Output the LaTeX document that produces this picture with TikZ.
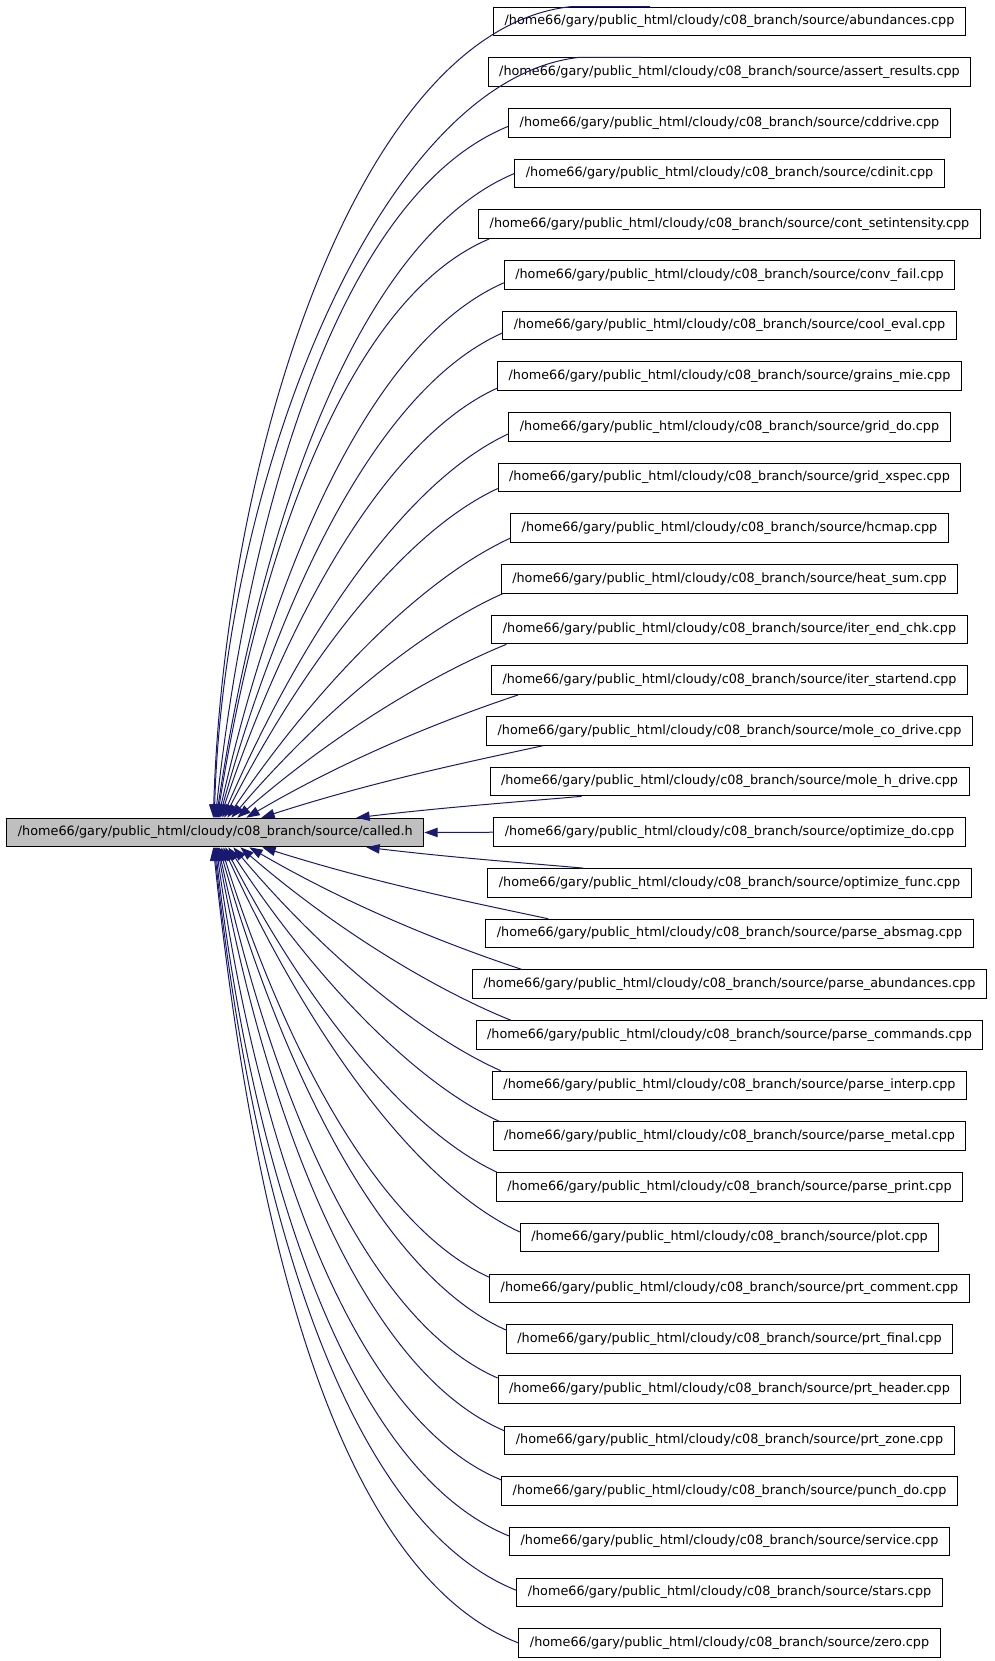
\documentclass[tikz,border=0pt]{standalone}
\usepackage{fontspec}
\setmainfont{DejaVu Sans}
\usetikzlibrary{arrows.meta,calc}
\definecolor{edgeblue}{HTML}{191970}
\definecolor{hlgray}{HTML}{BFBFBF}
\newcommand\fpath[1]{/home66/gary/public\_html/cloudy/c08\_branch/source/#1}
\newcommand\UpEdge[2]{%
  \draw[calledge] let \p1=#1, \p2=($(c.north west)+(#2,0)$),
    \n1={atan2(abs(\y1-\y2),\x1-\x2)}, \n2={min(1.25*\n1,84)},
    \n3={\n1*(1-\n1/100)}, \n4={180+\n3}
    in (\p1) to[out=\n4, in=\n2, out looseness=0.62, in looseness=1.05] (\p2);}
\newcommand\LoEdge[2]{%
  \draw[calledge] let \p1=#1, \p2=($(c.south west)+(#2,0)$),
    \n1={atan2(abs(\y1-\y2),\x1-\x2)}, \n2={-min(1.25*\n1,84)},
    \n3={\n1*(1-\n1/100)}, \n4={180-\n3}
    in (\p1) to[out=\n4, in=\n2, out looseness=0.62, in looseness=1.05] (\p2);}
\begin{document}
\begin{tikzpicture}[x=0.75pt,y=0.75pt,
  box/.style={draw=black,line width=0.75pt,fill=white,font=\fontsize{9.6}{11}\selectfont,
    inner xsep=8.25pt,inner ysep=0pt,minimum height=21.4pt},
  calledge/.style={draw=edgeblue,line width=0.75pt,-{Triangle[length=10pt,width=7pt]}}]
\useasboundingbox (0,0) rectangle (995,-1661);
\node[box,fill=hlgray,minimum width=312.75pt] (c) at (215.3,-832.5) {\fpath{called.h}};
\foreach \i/\f in {0/abundances,1/assert\_results,2/cddrive,3/cdinit,4/cont\_setintensity,
  5/conv\_fail,6/cool\_eval,7/grains\_mie,8/grid\_do,9/grid\_xspec,10/hcmap,11/heat\_sum,
  12/iter\_end\_chk,13/iter\_startend,14/mole\_co\_drive,15/mole\_h\_drive,16/optimize\_do,
  17/optimize\_func,18/parse\_absmag,19/parse\_abundances,20/parse\_commands,21/parse\_interp,
  22/parse\_metal,23/parse\_print,24/plot,25/prt\_comment,26/prt\_final,27/prt\_header,
  28/prt\_zone,29/punch\_do,30/service,31/stars,32/zero}
  \node[box] (n\i) at (729.5,{-(21.5+50.67*\i)}) {\fpath{\f.cpp}};
% special top edges
\draw[calledge] ([shift={(157,0)}]n0.north west) -- ([shift={(77,0)}]n0.north west)
  .. controls (360,-30) and (225,-450) .. ($(c.north west)+(207,0)$);
\draw[calledge] ([shift={(154,0)}]n1.north west) -- ([shift={(91,0)}]n1.north west)
  .. controls (380,-80) and (224,-476) .. ($(c.north west)+(208,0)$);
\UpEdge{([shift={(0,-3.5)}]n2.west)}{209}
\UpEdge{(n3.west)}{210}
\UpEdge{([shift={(11,0)}]n4.south west)}{211}
\UpEdge{([shift={(0,-8)}]n5.west)}{212}
\UpEdge{([shift={(0,-7.5)}]n6.west)}{213}
\UpEdge{([shift={(0,-12)}]n7.west)}{214}
\UpEdge{([shift={(0,-7)}]n8.west)}{216}
\UpEdge{([shift={(0,-11)}]n9.west)}{218}
\UpEdge{([shift={(0,-10)}]n10.west)}{221}
\UpEdge{([shift={(2,0)}]n11.south west)}{225}
\UpEdge{([shift={(15,0)}]n12.south west)}{231}
\UpEdge{([shift={(27,0)}]n13.south west)}{240}
\UpEdge{([shift={(57,0)}]n14.south west)}{255}
\UpEdge{([shift={(92,0)}]n15.south west)}{350}
\draw[calledge] (n16.west) -- (c.east);
\LoEdge{([shift={(96,0)}]n17.north west)}{360}
\LoEdge{([shift={(63,0)}]n18.north west)}{256}
\LoEdge{([shift={(50,0)}]n19.north west)}{243}
\LoEdge{([shift={(35,0)}]n20.north west)}{234}
\LoEdge{([shift={(9,0)}]n21.north west)}{227}
\LoEdge{([shift={(7,0)}]n22.north west)}{222}
\LoEdge{([shift={(1,0)}]n23.north west)}{219}
\LoEdge{([shift={(0,5.6)}]n24.west)}{217}
\LoEdge{([shift={(0,11)}]n25.west)}{215}
\LoEdge{([shift={(0,9)}]n26.west)}{213}
\LoEdge{([shift={(0,11.6)}]n27.west)}{212}
\LoEdge{([shift={(0,9.5)}]n28.west)}{211}
\LoEdge{([shift={(0,11)}]n29.west)}{210}
\LoEdge{([shift={(0,5.6)}]n30.west)}{209}
\LoEdge{([shift={(0,2)}]n31.west)}{208}
\LoEdge{(n32.west)}{207}
\end{tikzpicture}
\end{document}
